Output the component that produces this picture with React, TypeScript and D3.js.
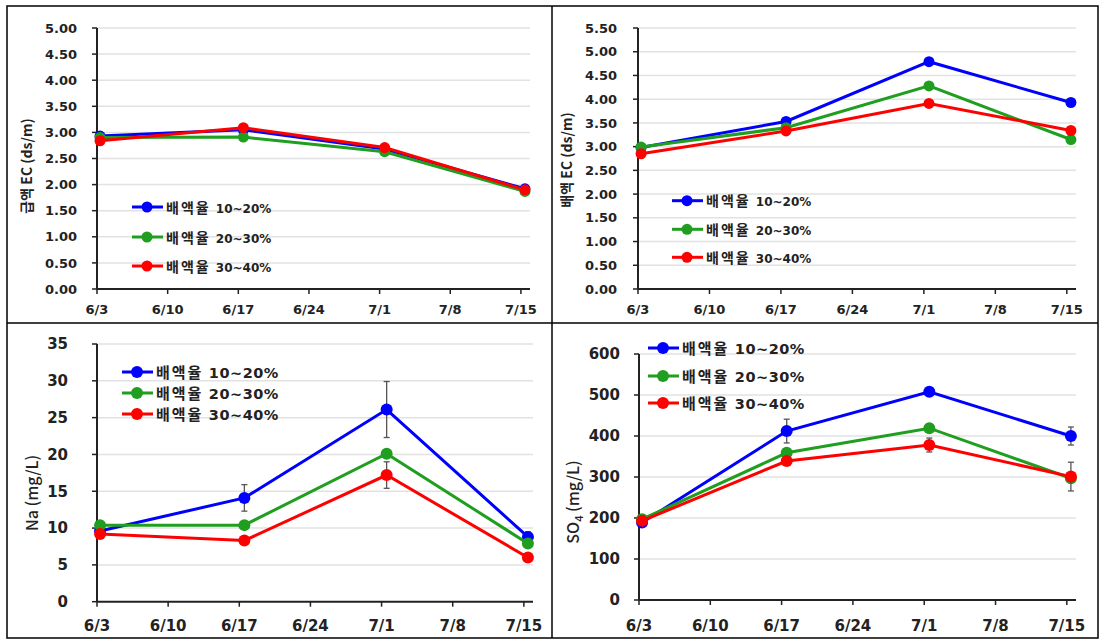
import React from "react";
import * as d3 from "d3";

// ---- data ----
const tickDays = [0, 7, 14, 21, 28, 35, 42];
const tickLabels = ["6/3", "6/10", "6/17", "6/24", "7/1", "7/8", "7/15"];
const sampleDays = [0.3, 14.5, 28.5, 42.4];
const seriesNames = ["10~20%", "20~30%", "30~40%"];
const seriesColors = ["#0000ff", "#1f9e1f", "#ff0000"];

const supplyEC10 = [2.93, 3.05, 2.68, 1.92];
const supplyEC20 = [2.9, 2.91, 2.63, 1.87];
const supplyEC30 = [2.84, 3.09, 2.71, 1.9];

const drainEC10 = [2.98, 3.53, 4.79, 3.93];
const drainEC20 = [2.99, 3.4, 4.28, 3.15];
const drainEC30 = [2.85, 3.33, 3.91, 3.34];
const drainEC30Err = [0, 0, 0.08, 0];

const na10 = [9.6, 14.1, 26.1, 8.8];
const na20 = [10.4, 10.4, 20.1, 7.9];
const na30 = [9.2, 8.3, 17.2, 6.0];
const na10Err = [0, 1.8, 3.8, 0.7];
const na20Err = [0, 0, 0, 0.3];
const na30Err = [0, 0, 1.8, 0];

const so4_10 = [189, 412, 508, 400];
const so4_20 = [197, 359, 419, 297];
const so4_30 = [193, 339, 378, 301];
const so4_10Err = [0, 29, 0, 22];
const so4_20Err = [0, 8, 0, 0];
const so4_30Err = [0, 0, 17, 35];

const supplyTicks = d3.range(0, 5.001, 0.5);
const drainTicks = d3.range(0, 5.501, 0.5);
const naTicks = d3.range(0, 36, 5);
const so4Ticks = d3.range(0, 601, 100);

const NUM = "'DejaVu Sans', Verdana, sans-serif";
const KR = "'Noto Sans CJK KR', sans-serif";

type PanelProps = {
  left: number;
  axisEnd: number;
  top: number;
  bottom: number;
  yTicks: number[];
  fmt: (v: number) => string;
  values: number[][];
  errs: number[][];
  legend: { x: number; rows: number[]; krSize: number; numSize: number; numSpacing: number };
  yFont: number;
  yGap: number;
  xFont: number;
  xLabelY: number;
  r: number;
  ylabel: React.ReactNode;
};

function Panel(p: PanelProps) {
  const x = d3.scaleLinear().domain([0, 42.9]).range([p.left, p.axisEnd]);
  const yMax = p.yTicks[p.yTicks.length - 1];
  const y = d3.scaleLinear().domain([0, yMax]).range([p.bottom, p.top]);
  const line = d3
    .line<number>()
    .x((_, i) => x(sampleDays[i]))
    .y((d) => y(d));
  return (
    <g>
      {p.yTicks.map((t) => (
        <g key={"g" + t}>
          {t > 0 && (
            <line x1={p.left} x2={p.axisEnd} y1={y(t)} y2={y(t)} stroke="#e2e2e2" strokeWidth={1.5} />
          )}
          <line x1={p.left - 5} x2={p.left} y1={y(t)} y2={y(t)} stroke="#222" strokeWidth={1.5} />
          <text
            x={p.left - p.yGap}
            y={y(t)}
            dy="0.36em"
            textAnchor="end"
            fontFamily={NUM}
            fontWeight="bold"
            fontSize={p.yFont}
            fill="#222"
          >
            {p.fmt(t)}
          </text>
        </g>
      ))}
      {tickDays.map((d, i) => (
        <g key={"x" + d}>
          <line x1={x(d)} x2={x(d)} y1={p.bottom} y2={p.bottom + 5} stroke="#222" strokeWidth={1.5} />
          <text
            x={x(d)}
            y={p.xLabelY}
            textAnchor="middle"
            fontFamily={NUM}
            fontWeight="bold"
            fontSize={p.xFont}
            fill="#222"
          >
            {tickLabels[i]}
          </text>
        </g>
      ))}
      <line x1={p.left} x2={p.left} y1={p.top} y2={p.bottom} stroke="#222" strokeWidth={2} />
      <line x1={p.left} x2={p.axisEnd} y1={p.bottom} y2={p.bottom} stroke="#222" strokeWidth={2} />
      {p.values.map((vals, si) => (
        <g key={"s" + si}>
          <path d={line(vals) || ""} fill="none" stroke={seriesColors[si]} strokeWidth={3} />
          {vals.map((v, i) => {
            const e = p.errs[si][i];
            return e > 0 ? (
              <g key={"e" + i} stroke="#555" strokeWidth={1.3}>
                <line x1={x(sampleDays[i])} x2={x(sampleDays[i])} y1={y(v - e)} y2={y(v + e)} />
                <line x1={x(sampleDays[i]) - 3} x2={x(sampleDays[i]) + 3} y1={y(v - e)} y2={y(v - e)} />
                <line x1={x(sampleDays[i]) - 3} x2={x(sampleDays[i]) + 3} y1={y(v + e)} y2={y(v + e)} />
              </g>
            ) : null;
          })}
          {vals.map((v, i) => (
            <circle key={"c" + i} cx={x(sampleDays[i])} cy={y(v)} r={p.r} fill={seriesColors[si]} />
          ))}
        </g>
      ))}
      {seriesNames.map((n, i) => (
        <g key={"l" + i}>
          <line
            x1={p.legend.x}
            x2={p.legend.x + 31}
            y1={p.legend.rows[i]}
            y2={p.legend.rows[i]}
            stroke={seriesColors[i]}
            strokeWidth={3}
          />
          <circle cx={p.legend.x + 15} cy={p.legend.rows[i]} r={p.r} fill={seriesColors[i]} />
          <text x={p.legend.x + 34} y={p.legend.rows[i]} dy="0.36em" fill="#222" fontWeight="bold">
            <tspan fontFamily={KR} fontSize={p.legend.krSize} letterSpacing={2}>
              배액율{" "}
            </tspan>
            <tspan fontFamily={NUM} fontSize={p.legend.numSize} letterSpacing={p.legend.numSpacing}>
              {n}
            </tspan>
          </text>
        </g>
      ))}
      {p.ylabel}
    </g>
  );
}

export default function App() {
  const f2 = (v: number) => v.toFixed(2);
  const f0 = (v: number) => d3.format("d")(v);
  return (
    <svg width={1104} height={644} style={{ position: "absolute", left: 0, top: 0, background: "#fff" }}>
      <rect x={0} y={0} width={1104} height={644} fill="#fff" />
      <Panel
        left={97}
        axisEnd={530}
        top={28}
        bottom={289}
        yTicks={supplyTicks}
        fmt={f2}
        values={[supplyEC10, supplyEC20, supplyEC30]}
        errs={[[0, 0, 0, 0], [0, 0, 0, 0], [0, 0, 0, 0]]}
        legend={{ x: 132, rows: [207, 237, 266], krSize: 14, numSize: 12, numSpacing: 0 }}
        yFont={13}
        yGap={20}
        xFont={13}
        xLabelY={314}
        r={5.5}
        ylabel={
          <text
            transform="translate(32,166) rotate(-90)"
            textAnchor="middle"
            fontFamily={KR}
            fontWeight="bold"
            fontSize={14}
            fill="#222"
          >
            급액 EC (ds/m)
          </text>
        }
      />
      <Panel
        left={638}
        axisEnd={1076}
        top={28}
        bottom={289}
        yTicks={drainTicks}
        fmt={f2}
        values={[drainEC10, drainEC20, drainEC30]}
        errs={[[0, 0, 0, 0], [0, 0, 0, 0], drainEC30Err]}
        legend={{ x: 672, rows: [200.7, 229.3, 257.3], krSize: 14, numSize: 12, numSpacing: 0 }}
        yFont={13}
        yGap={21}
        xFont={13}
        xLabelY={314}
        r={5.5}
        ylabel={
          <text
            transform="translate(572,160) rotate(-90)"
            textAnchor="middle"
            fontFamily={KR}
            fontWeight="bold"
            fontSize={14}
            fill="#222"
          >
            배액 EC (ds/m)
          </text>
        }
      />
      <Panel
        left={97}
        axisEnd={533}
        top={344}
        bottom={601.7}
        yTicks={naTicks}
        fmt={f0}
        values={[na10, na20, na30]}
        errs={[na10Err, na20Err, na30Err]}
        legend={{ x: 122, rows: [372, 393, 414], krSize: 15, numSize: 14.5, numSpacing: 0.5 }}
        yFont={15}
        yGap={29}
        xFont={15}
        xLabelY={631}
        r={6}
        ylabel={
          <text
            transform="translate(38,493) rotate(-90)"
            textAnchor="middle"
            fontFamily={KR}
            fontWeight="500"
            fontSize={16}
            fill="#222"
          >
            Na (mg/L)
          </text>
        }
      />
      <Panel
        left={639}
        axisEnd={1076}
        top={354}
        bottom={600}
        yTicks={so4Ticks}
        fmt={f0}
        values={[so4_10, so4_20, so4_30]}
        errs={[so4_10Err, so4_20Err, so4_30Err]}
        legend={{ x: 648, rows: [348, 376, 403], krSize: 15, numSize: 14.5, numSpacing: 0.5 }}
        yFont={15}
        yGap={19}
        xFont={15}
        xLabelY={631}
        r={6}
        ylabel={
          <text
            transform="translate(579,502) rotate(-90)"
            textAnchor="middle"
            fontFamily={KR}
            fontWeight="500"
            fontSize={16}
            fill="#222"
          >
            SO
            <tspan fontSize={11} dy={4}>4</tspan>
            <tspan dy={-4}> (mg/L)</tspan>
          </text>
        }
      />
      <rect x={7} y={6} width={1091} height={632} fill="none" stroke="#000" strokeWidth={1.5} />
      <line x1={552} x2={552} y1={6} y2={638} stroke="#000" strokeWidth={1.5} />
      <line x1={7} x2={1098} y1={323} y2={323} stroke="#000" strokeWidth={1.5} />
    </svg>
  );
}
